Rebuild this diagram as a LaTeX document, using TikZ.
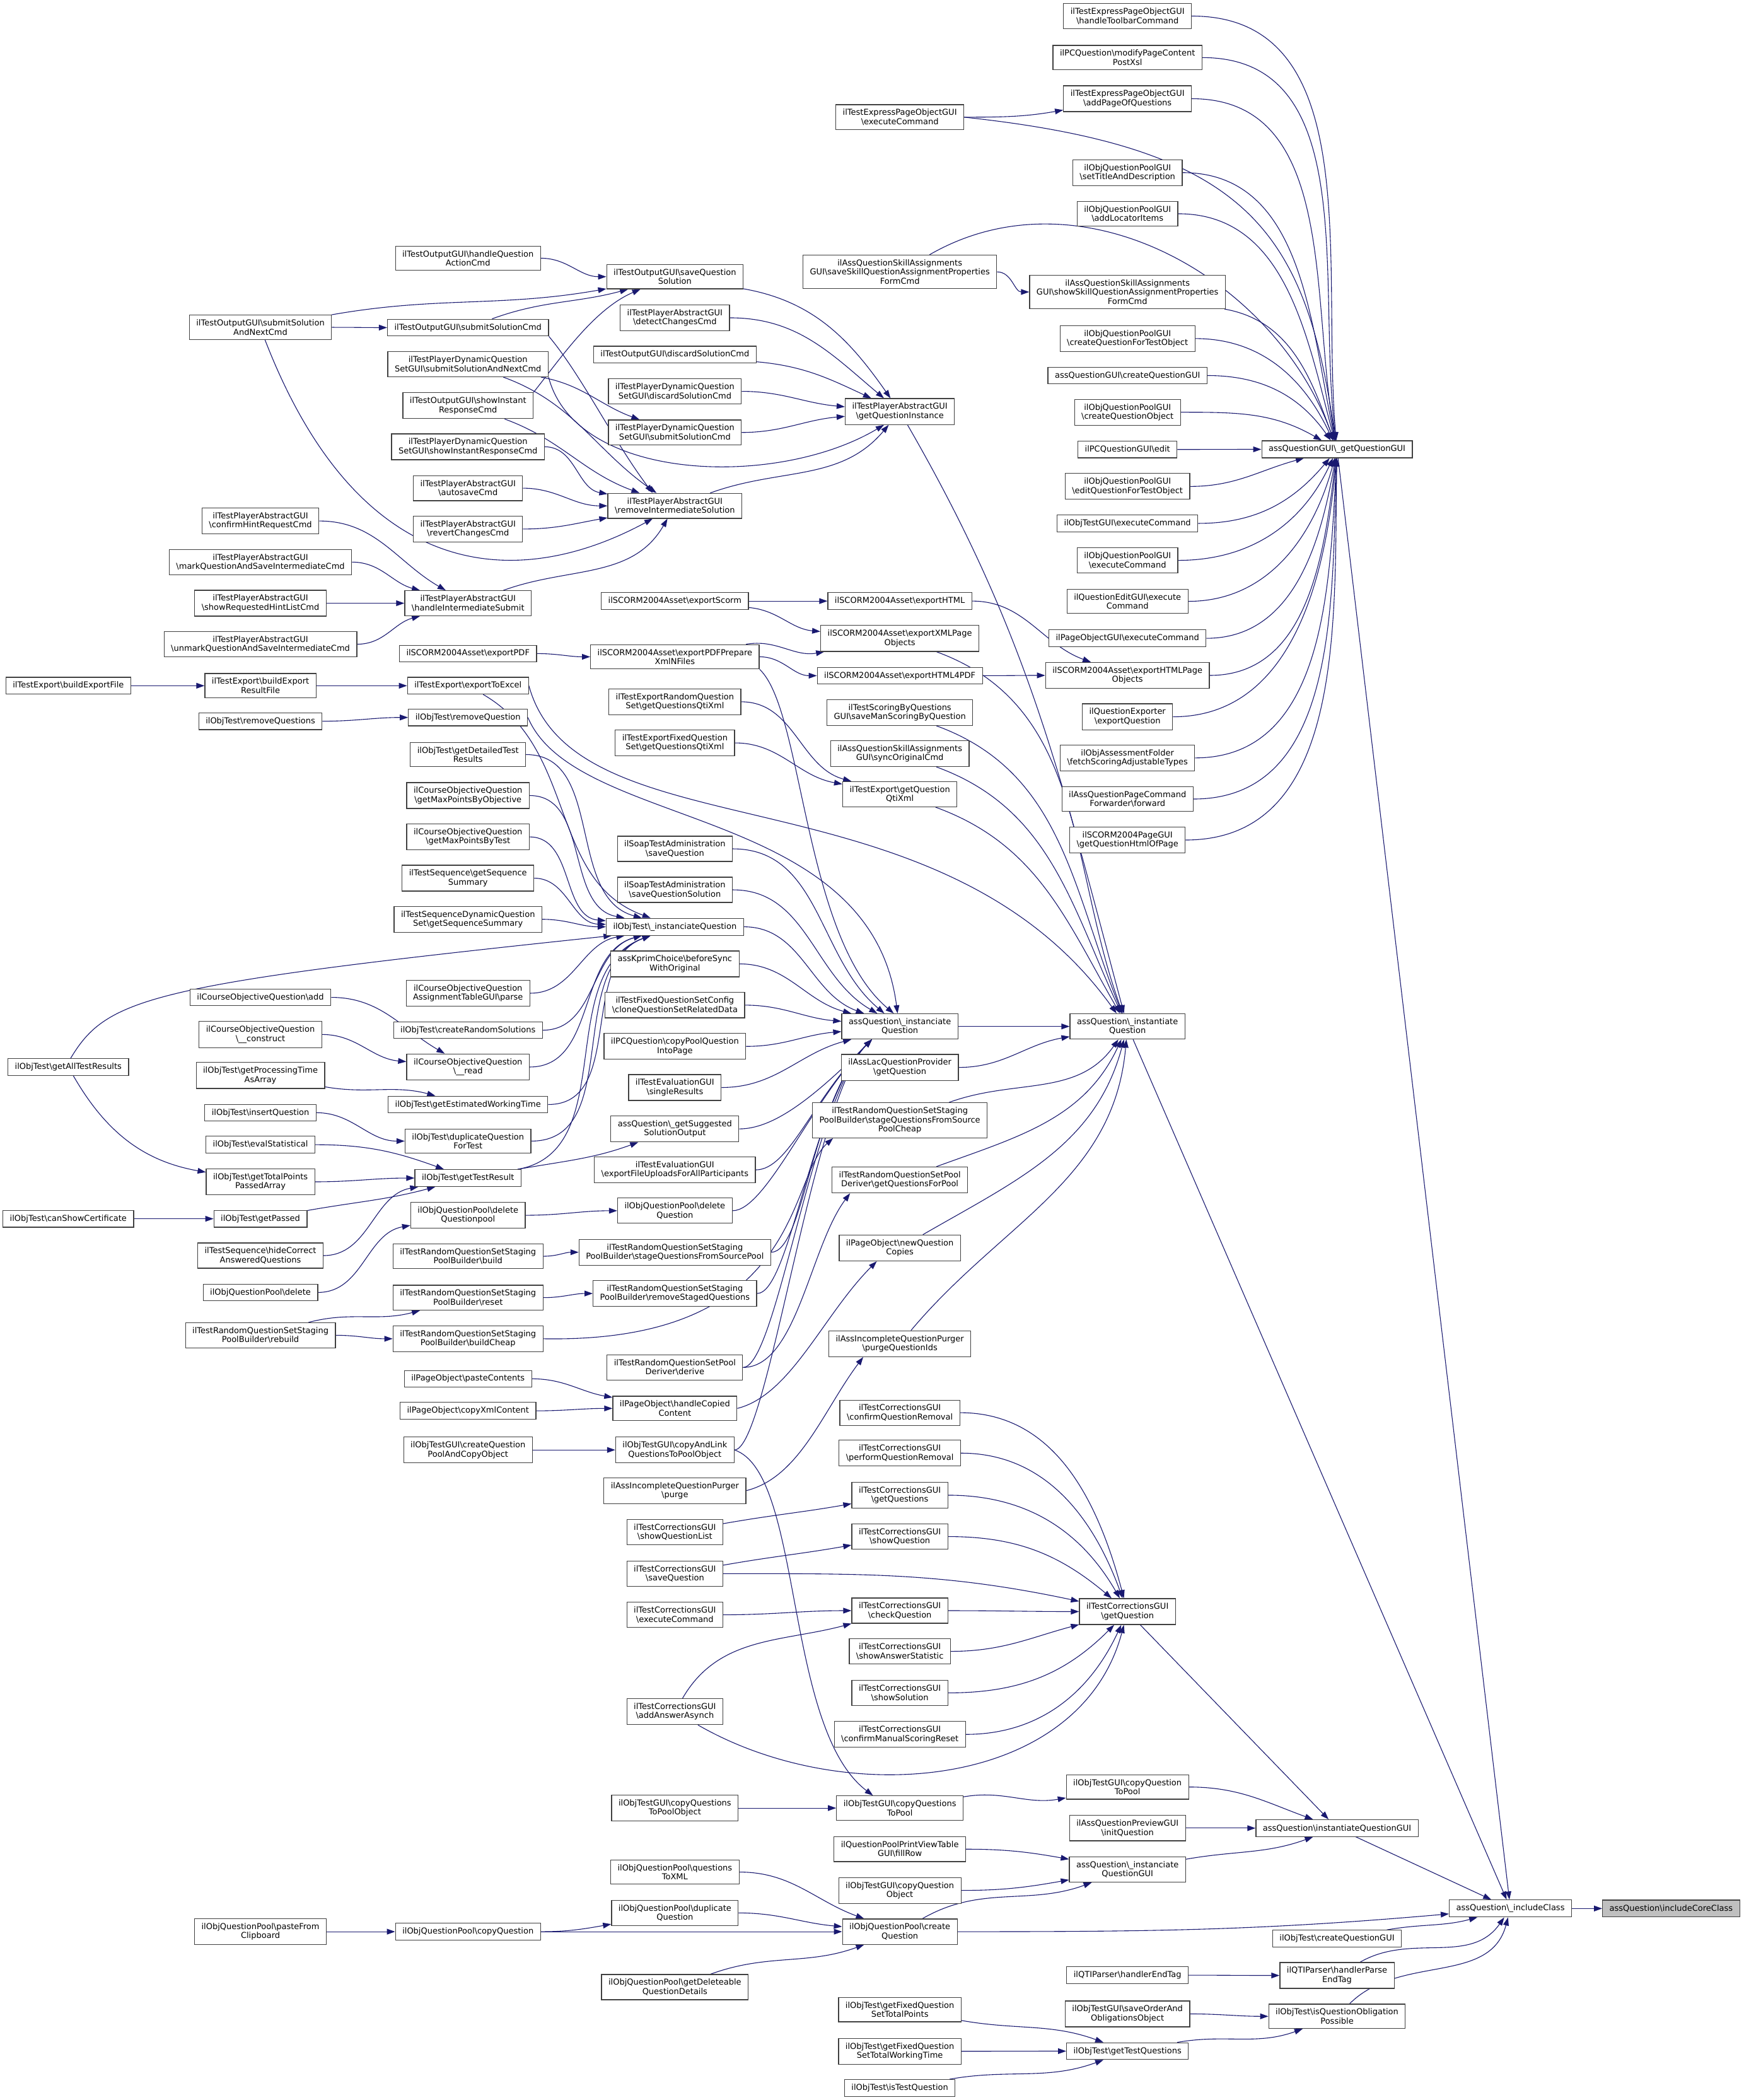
\documentclass[tikz,border=0pt]{standalone}
\usepackage{fontspec}
\setmainfont{DejaVu Sans}
\usetikzlibrary{arrows.meta}
\definecolor{edgeblue}{HTML}{191970}
\newcommand{\bsl}{\textbackslash}
\pgfdeclarelayer{bg}
\pgfsetlayers{bg,main}

\begin{document}
\begin{tikzpicture}[x=2.1237pt,y=2.1237pt,
  fn/.style={draw=black!75, fill=white, line width=1.2pt, inner xsep=11pt,
    inner ysep=7pt, minimum height=26.5pt, align=center,
    font=\fontsize{13}{14.5}\selectfont},
  call/.style={draw=edgeblue, line width=1.1pt, -{Triangle[length=13pt,width=9pt]}}]
\useasboundingbox (0,0) rectangle (1302,-1568);
% Focus
\node[fn, fill=gray!50] (coreclass) at (1248,-1425) {assQuestion\bsl includeCoreClass};
\node[fn] (incl) at (1128,-1425) {assQuestion\bsl\_includeClass};
% Column 6
\node[fn] (gqg) at (998.5,-335.5) {assQuestionGUI\bsl\_getQuestionGUI};
\node[fn] (iqgui) at (998.5,-1365) {assQuestion\bsl instantiateQuestionGUI};
\node[fn] (otcqg) at (998.5,-1447.5) {ilObjTest\bsl createQuestionGUI};
\node[fn] (qtiparse) at (998.5,-1475) {ilQTIParser\bsl handlerParse\\EndTag};
\node[fn] (oblig) at (998.5,-1505.5) {ilObjTest\bsl isQuestionObligation\\Possible};
% Column 5
\node[fn] (htc) at (842,-12) {ilTestExpressPageObjectGUI\\\bsl handleToolbarCommand};
\node[fn] (mpc) at (842,-43) {ilPCQuestion\bsl modifyPageContent\\PostXsl};
\node[fn] (apq) at (842,-73.7) {ilTestExpressPageObjectGUI\\\bsl addPageOfQuestions};
\node[fn] (stad) at (842,-128.9) {ilObjQuestionPoolGUI\\\bsl setTitleAndDescription};
\node[fn] (ali) at (842,-159.6) {ilObjQuestionPoolGUI\\\bsl addLocatorItems};
\node[fn] (showskill) at (842,-218) {ilAssQuestionSkillAssignments\\GUI\bsl showSkillQuestionAssignmentProperties\\FormCmd};
\node[fn] (cqfto) at (842,-252.8) {ilObjQuestionPoolGUI\\\bsl createQuestionForTestObject};
\node[fn] (cqgui) at (842,-280.4) {assQuestionGUI\bsl createQuestionGUI};
\node[fn] (cqo) at (842,-307.8) {ilObjQuestionPoolGUI\\\bsl createQuestionObject};
\node[fn] (pcedit) at (842,-335.6) {ilPCQuestionGUI\bsl edit};
\node[fn] (eqfto) at (842,-363.2) {ilObjQuestionPoolGUI\\\bsl editQuestionForTestObject};
\node[fn] (otgexec) at (842,-390.8) {ilObjTestGUI\bsl executeCommand};
\node[fn] (qpgexec) at (842,-418.4) {ilObjQuestionPoolGUI\\\bsl executeCommand};
\node[fn] (qeexec) at (842,-449) {ilQuestionEditGUI\bsl execute\\Command};
\node[fn] (pogexec) at (842,-476.6) {ilPageObjectGUI\bsl executeCommand};
\node[fn] (htmlpo) at (842,-504.3) {ilSCORM2004Asset\bsl exportHTMLPage\\Objects};
\node[fn] (qexport) at (842,-535.2) {ilQuestionExporter\\\bsl exportQuestion};
\node[fn] (fetch) at (842,-565.9) {ilObjAssessmentFolder\\\bsl fetchScoringAdjustableTypes};
\node[fn] (forward) at (842,-596.6) {ilAssQuestionPageCommand\\Forwarder\bsl forward};
\node[fn] (htmlpage) at (842,-627.2) {ilSCORM2004PageGUI\\\bsl getQuestionHtmlOfPage};
\node[fn] (instq) at (842,-766.4) {assQuestion\bsl\_instantiate\\Question};
\node[fn] (tcgq) at (842,-1203.3) {ilTestCorrectionsGUI\\\bsl getQuestion};
\node[fn] (cqtp) at (842,-1334.3) {ilObjTestGUI\bsl copyQuestion\\ToPool};
\node[fn] (preview) at (842,-1365) {ilAssQuestionPreviewGUI\\\bsl initQuestion};
\node[fn] (instqgui) at (842,-1395.9) {assQuestion\bsl\_instanciate\\QuestionGUI};
\node[fn] (endtag) at (842,-1474.8) {ilQTIParser\bsl handlerEndTag};
\node[fn] (saveorder) at (842,-1503.7) {ilObjTestGUI\bsl saveOrderAnd\\ObligationsObject};
\node[fn] (gtq) at (842,-1531.5) {ilObjTest\bsl getTestQuestions};
% Column 4
\node[fn] (tepexec) at (672,-87.5) {ilTestExpressPageObjectGUI\\\bsl executeCommand};
\node[fn] (saveskill) at (672,-203) {ilAssQuestionSkillAssignments\\GUI\bsl saveSkillQuestionAssignmentProperties\\FormCmd};
\node[fn] (gqi) at (672,-307.3) {ilTestPlayerAbstractGUI\\\bsl getQuestionInstance};
\node[fn] (exphtml) at (672,-448.8) {ilSCORM2004Asset\bsl exportHTML};
\node[fn] (xmlpo) at (672,-476.7) {ilSCORM2004Asset\bsl exportXMLPage\\Objects};
\node[fn] (html4pdf) at (672,-504.5) {ilSCORM2004Asset\bsl exportHTML4PDF};
\node[fn] (manscoring) at (672,-532) {ilTestScoringByQuestions\\GUI\bsl saveManScoringByQuestion};
\node[fn] (syncorig) at (672,-562.7) {ilAssQuestionSkillAssignments\\GUI\bsl syncOriginalCmd};
\node[fn] (qtixml) at (672,-593) {ilTestExport\bsl getQuestion\\QtiXml};
\node[fn] (instanq) at (672,-766.4) {assQuestion\bsl\_instanciate\\Question};
\node[fn] (lacq) at (672,-797) {ilAssLacQuestionProvider\\\bsl getQuestion};
\node[fn] (stagecheap) at (672,-836.5) {ilTestRandomQuestionSetStaging\\PoolBuilder\bsl stageQuestionsFromSource\\PoolCheap};
\node[fn] (qforpool) at (672,-881) {ilTestRandomQuestionSetPool\\Deriver\bsl getQuestionsForPool};
\node[fn] (newcopies) at (672,-931.8) {ilPageObject\bsl newQuestion\\Copies};
\node[fn] (purgeids) at (672,-1003.3) {ilAssIncompleteQuestionPurger\\\bsl purgeQuestionIds};
\node[fn] (tcconfirm) at (672,-1054.8) {ilTestCorrectionsGUI\\\bsl confirmQuestionRemoval};
\node[fn] (tcperform) at (672,-1085) {ilTestCorrectionsGUI\\\bsl performQuestionRemoval};
\node[fn] (tcgqs) at (672,-1116.4) {ilTestCorrectionsGUI\\\bsl getQuestions};
\node[fn] (tcshowq) at (672,-1147.3) {ilTestCorrectionsGUI\\\bsl showQuestion};
\node[fn] (tccheck) at (672,-1202.6) {ilTestCorrectionsGUI\\\bsl checkQuestion};
\node[fn] (tcstat) at (672,-1233) {ilTestCorrectionsGUI\\\bsl showAnswerStatistic};
\node[fn] (tcsol) at (672,-1264) {ilTestCorrectionsGUI\\\bsl showSolution};
\node[fn] (tcreset) at (672,-1295) {ilTestCorrectionsGUI\\\bsl confirmManualScoringReset};
\node[fn] (cqstp) at (672,-1350) {ilObjTestGUI\bsl copyQuestions\\ToPool};
\node[fn] (fillrow) at (672,-1380.7) {ilQuestionPoolPrintViewTable\\GUI\bsl fillRow};
\node[fn] (cqobj) at (672,-1411.5) {ilObjTestGUI\bsl copyQuestion\\Object};
\node[fn] (createq) at (672,-1442.3) {ilObjQuestionPool\bsl create\\Question};
\node[fn] (totpoints) at (672,-1500.5) {ilObjTest\bsl getFixedQuestion\\SetTotalPoints};
\node[fn] (tottime) at (672,-1531.6) {ilObjTest\bsl getFixedQuestion\\SetTotalWorkingTime};
\node[fn] (istestq) at (672,-1559) {ilObjTest\bsl isTestQuestion};
% Column 3
\node[fn] (saveqs) at (504,-206.6) {ilTestOutputGUI\bsl saveQuestion\\Solution};
\node[fn] (detect) at (504,-237.3) {ilTestPlayerAbstractGUI\\\bsl detectChangesCmd};
\node[fn] (discard) at (504,-264.8) {ilTestOutputGUI\bsl discardSolutionCmd};
\node[fn] (dyndiscard) at (504,-292.2) {ilTestPlayerDynamicQuestion\\SetGUI\bsl discardSolutionCmd};
\node[fn] (dynsubmit) at (504,-322.9) {ilTestPlayerDynamicQuestion\\SetGUI\bsl submitSolutionCmd};
\node[fn] (removeis) at (504,-377.7) {ilTestPlayerAbstractGUI\\\bsl removeIntermediateSolution};
\node[fn] (scorm) at (504,-448.8) {ilSCORM2004Asset\bsl exportScorm};
\node[fn] (pdfprep) at (504,-490.4) {ilSCORM2004Asset\bsl exportPDFPrepare\\XmlNFiles};
\node[fn] (randqti) at (504,-524) {ilTestExportRandomQuestion\\Set\bsl getQuestionsQtiXml};
\node[fn] (fixedqti) at (504,-554.7) {ilTestExportFixedQuestion\\Set\bsl getQuestionsQtiXml};
\node[fn] (soapsave) at (504,-633.8) {ilSoapTestAdministration\\\bsl saveQuestion};
\node[fn] (soapsol) at (504,-664.4) {ilSoapTestAdministration\\\bsl saveQuestionSolution};
\node[fn] (otinst) at (504,-692) {ilObjTest\bsl\_instanciateQuestion};
\node[fn] (kprim) at (504,-719.7) {assKprimChoice\bsl beforeSync\\WithOriginal};
\node[fn] (clone) at (504,-750.5) {ilTestFixedQuestionSetConfig\\\bsl cloneQuestionSetRelatedData};
\node[fn] (pcpool) at (504,-781.3) {ilPCQuestion\bsl copyPoolQuestion\\IntoPage};
\node[fn] (singleres) at (504,-812) {ilTestEvaluationGUI\\\bsl singleResults};
\node[fn] (suggested) at (504,-842.9) {assQuestion\bsl\_getSuggested\\SolutionOutput};
\node[fn] (uploads) at (504,-873.5) {ilTestEvaluationGUI\\\bsl exportFileUploadsForAllParticipants};
\node[fn] (delq) at (504,-904) {ilObjQuestionPool\bsl delete\\Question};
\node[fn] (stagepool) at (504,-935) {ilTestRandomQuestionSetStaging\\PoolBuilder\bsl stageQuestionsFromSourcePool};
\node[fn] (removestaged) at (504,-965.8) {ilTestRandomQuestionSetStaging\\PoolBuilder\bsl removeStagedQuestions};
\node[fn] (derive) at (504,-1021) {ilTestRandomQuestionSetPool\\Deriver\bsl derive};
\node[fn] (handlecopied) at (504,-1051.6) {ilPageObject\bsl handleCopied\\Content};
\node[fn] (copylink) at (504,-1082.6) {ilObjTestGUI\bsl copyAndLink\\QuestionsToPoolObject};
\node[fn] (purge) at (504,-1113) {ilAssIncompleteQuestionPurger\\\bsl purge};
\node[fn] (tcqlist) at (504,-1144) {ilTestCorrectionsGUI\\\bsl showQuestionList};
\node[fn] (tcsaveq) at (504,-1175) {ilTestCorrectionsGUI\\\bsl saveQuestion};
\node[fn] (tcexec) at (504,-1205.7) {ilTestCorrectionsGUI\\\bsl executeCommand};
\node[fn] (tcasync) at (504,-1278) {ilTestCorrectionsGUI\\\bsl addAnswerAsynch};
\node[fn] (cqstpobj) at (504,-1350) {ilObjTestGUI\bsl copyQuestions\\ToPoolObject};
\node[fn] (qtoxml) at (504,-1397.8) {ilObjQuestionPool\bsl questions\\ToXML};
\node[fn] (dupq) at (504,-1428.3) {ilObjQuestionPool\bsl duplicate\\Question};
\node[fn] (deleteable) at (504,-1483.7) {ilObjQuestionPool\bsl getDeleteable\\QuestionDetails};
% Column 2
\node[fn] (qaction) at (349.5,-192.8) {ilTestOutputGUI\bsl handleQuestion\\ActionCmd};
\node[fn] (submitcmd) at (349.5,-244.6) {ilTestOutputGUI\bsl submitSolutionCmd};
\node[fn] (dynsubmitnext) at (349.5,-272) {ilTestPlayerDynamicQuestion\\SetGUI\bsl submitSolutionAndNextCmd};
\node[fn] (instresp) at (349.5,-302.9) {ilTestOutputGUI\bsl showInstant\\ResponseCmd};
\node[fn] (dyninstresp) at (349.5,-333.6) {ilTestPlayerDynamicQuestion\\SetGUI\bsl showInstantResponseCmd};
\node[fn] (autosave) at (349.5,-364.5) {ilTestPlayerAbstractGUI\\\bsl autosaveCmd};
\node[fn] (revert) at (349.5,-395) {ilTestPlayerAbstractGUI\\\bsl revertChangesCmd};
\node[fn] (intermsubmit) at (349.5,-450.4) {ilTestPlayerAbstractGUI\\\bsl handleIntermediateSubmit};
\node[fn] (exportpdf) at (349.5,-488) {ilSCORM2004Asset\bsl exportPDF};
\node[fn] (excel) at (349.5,-512) {ilTestExport\bsl exportToExcel};
\node[fn] (removeq) at (349.5,-535.7) {ilObjTest\bsl removeQuestion};
\node[fn] (detailed) at (349.5,-563.4) {ilObjTest\bsl getDetailedTest\\Results};
\node[fn] (maxobj) at (349.5,-594) {ilCourseObjectiveQuestion\\\bsl getMaxPointsByObjective};
\node[fn] (maxtest) at (349.5,-624.9) {ilCourseObjectiveQuestion\\\bsl getMaxPointsByTest};
\node[fn] (seqsum) at (349.5,-655.7) {ilTestSequence\bsl getSequence\\Summary};
\node[fn] (dynseqsum) at (349.5,-686.4) {ilTestSequenceDynamicQuestion\\Set\bsl getSequenceSummary};
\node[fn] (parse) at (349.5,-741.6) {ilCourseObjectiveQuestion\\AssignmentTableGUI\bsl parse};
\node[fn] (randsol) at (349.5,-769.2) {ilObjTest\bsl createRandomSolutions};
\node[fn] (coread) at (349.5,-796.7) {ilCourseObjectiveQuestion\\\bsl\_\_read};
\node[fn] (worktime) at (349.5,-824.7) {ilObjTest\bsl getEstimatedWorkingTime};
\node[fn] (dupfortest) at (349.5,-852) {ilObjTest\bsl duplicateQuestion\\ForTest};
\node[fn] (testresult) at (349.5,-879.6) {ilObjTest\bsl getTestResult};
\node[fn] (delpool) at (349.5,-907.4) {ilObjQuestionPool\bsl delete\\Questionpool};
\node[fn] (spbuild) at (349.5,-938) {ilTestRandomQuestionSetStaging\\PoolBuilder\bsl build};
\node[fn] (spreset) at (349.5,-968.9) {ilTestRandomQuestionSetStaging\\PoolBuilder\bsl reset};
\node[fn] (spcheap) at (349.5,-999.6) {ilTestRandomQuestionSetStaging\\PoolBuilder\bsl buildCheap};
\node[fn] (paste) at (349.5,-1029.5) {ilPageObject\bsl pasteContents};
\node[fn] (copyxml) at (349.5,-1053.4) {ilPageObject\bsl copyXmlContent};
\node[fn] (createpool) at (349.5,-1082.6) {ilObjTestGUI\bsl createQuestion\\PoolAndCopyObject};
\node[fn] (copyq) at (349.5,-1442.3) {ilObjQuestionPool\bsl copyQuestion};
% Column 1
\node[fn] (submitnext) at (194.5,-244.4) {ilTestOutputGUI\bsl submitSolution\\AndNextCmd};
\node[fn] (hint) at (194.5,-389) {ilTestPlayerAbstractGUI\\\bsl confirmHintRequestCmd};
\node[fn] (markq) at (194.5,-419.7) {ilTestPlayerAbstractGUI\\\bsl markQuestionAndSaveIntermediateCmd};
\node[fn] (hintlist) at (194.5,-450.4) {ilTestPlayerAbstractGUI\\\bsl showRequestedHintListCmd};
\node[fn] (unmarkq) at (194.5,-481) {ilTestPlayerAbstractGUI\\\bsl unmarkQuestionAndSaveIntermediateCmd};
\node[fn] (resultfile) at (194.5,-512) {ilTestExport\bsl buildExport\\ResultFile};
\node[fn] (removeqs) at (194.5,-538.5) {ilObjTest\bsl removeQuestions};
\node[fn] (coadd) at (194.5,-744.7) {ilCourseObjectiveQuestion\bsl add};
\node[fn] (coconstruct) at (194.5,-772.4) {ilCourseObjectiveQuestion\\\bsl\_\_construct};
\node[fn] (proctime) at (194.5,-803) {ilObjTest\bsl getProcessingTime\\AsArray};
\node[fn] (insertq) at (194.5,-830.8) {ilObjTest\bsl insertQuestion};
\node[fn] (evalstat) at (194.5,-854.7) {ilObjTest\bsl evalStatistical};
\node[fn] (totpassed) at (194.5,-882.4) {ilObjTest\bsl getTotalPoints\\PassedArray};
\node[fn] (getpassed) at (194.5,-910) {ilObjTest\bsl getPassed};
\node[fn] (hidecorrect) at (194.5,-937.5) {ilTestSequence\bsl hideCorrect\\AnsweredQuestions};
\node[fn] (pooldelete) at (194.5,-965) {ilObjQuestionPool\bsl delete};
\node[fn] (sprebuild) at (194.5,-997) {ilTestRandomQuestionSetStaging\\PoolBuilder\bsl rebuild};
\node[fn] (pastefrom) at (194.5,-1442.3) {ilObjQuestionPool\bsl pasteFrom\\Clipboard};
% Column 0
\node[fn] (exportfile) at (51,-512) {ilTestExport\bsl buildExportFile};
\node[fn] (alltest) at (51,-796.7) {ilObjTest\bsl getAllTestResults};
\node[fn] (certificate) at (51,-910) {ilObjTest\bsl canShowCertificate};
\begin{pgfonlayer}{bg}
% Calls: caller/out/in/callee
\foreach \a/\o/\i/\b in {exportfile/0/180/resultfile,
  alltest/-60/170/totpassed, certificate/0/180/getpassed,
  resultfile/0/180/excel, removeqs/0/180/removeq, coadd/0/150/coread,
  coconstruct/0/175/coread, proctime/-10/165/worktime, insertq/0/180/dupfortest,
  evalstat/0/160/testresult, totpassed/0/180/testresult, getpassed/10/195/testresult,
  hidecorrect/0/190/testresult, pooldelete/0/190/delpool, sprebuild/15/195/spreset,
  sprebuild/0/180/spcheap, submitnext/0/180/submitcmd, submitnext/10/190/saveqs,
  hint/0/150/intermsubmit, markq/0/165/intermsubmit, hintlist/0/180/intermsubmit,
  unmarkq/0/195/intermsubmit, pastefrom/0/180/copyq}
  \draw[call] (\a) to[out=\o,in=\i] (\b);
\foreach \a/\o/\i/\b in {qaction/0/180/saveqs, submitcmd/20/195/saveqs,
  dynsubmitnext/-10/160/dynsubmit,
  dynsubmitnext/-20/145/removeis, instresp/-20/160/removeis, dyninstresp/0/170/removeis,
  autosave/0/180/removeis, revert/0/190/removeis, intermsubmit/20/-120/removeis,
  exportpdf/0/180/pdfprep, excel/-30/160/otinst, detailed/0/165/otinst,
  maxobj/0/170/otinst, maxtest/0/175/otinst, seqsum/0/178/otinst, dynseqsum/0/180/otinst,
  parse/0/190/otinst, randsol/0/195/otinst, coread/0/195/otinst, worktime/0/200/otinst,
  dupfortest/0/200/otinst, testresult/10/200/otinst, testresult/10/200/suggested,
  delpool/0/180/delq, spbuild/0/180/stagepool, spreset/0/180/removestaged,
  paste/0/170/handlecopied, copyxml/0/180/handlecopied,
  createpool/0/180/copylink, copyq/0/190/dupq, copyq/0/180/createq}
  \draw[call] (\a) to[out=\o,in=\i] (\b);
\foreach \a/\o/\i/\b in {saveqs/-10/125/gqi, detect/0/140/gqi, discard/-5/155/gqi,
  dyndiscard/0/175/gqi, dynsubmit/0/185/gqi, removeis/20/-130/gqi,
  scorm/0/180/exphtml, scorm/-5/175/xmlpo, pdfprep/10/190/xmlpo, pdfprep/0/180/html4pdf,
  randqti/0/165/qtixml, fixedqti/0/170/qtixml,
  soapsave/0/140/instanq, soapsol/0/150/instanq, otinst/0/160/instanq,
  kprim/0/165/instanq, clone/0/175/instanq, pcpool/0/185/instanq,
  singleres/0/195/instanq, tcqlist/10/190/tcgqs, tcsaveq/10/190/tcshowq,
  tcexec/0/180/tccheck, tcasync/60/195/tccheck, cqstpobj/0/180/cqstp,
  qtoxml/0/160/createq, dupq/0/175/createq, deleteable/20/200/createq}
  \draw[call] (\a) to[out=\o,in=\i] (\b);
\foreach \a in {suggested, uploads, delq, stagepool, removestaged, derive, copylink}
  \draw[call] (\a.east) .. controls +(25,0) and +(-45,-45) .. (instanq.205);
\foreach \a/\o/\i/\b in {tepexec/0/190/apq, saveskill/0/180/showskill,
  saveskill/30/110/gqg, gqi/-60/105/instq, exphtml/0/160/htmlpo, html4pdf/0/180/htmlpo,
  xmlpo/-20/110/instq, manscoring/-20/112/instq, syncorig/-20/115/instq,
  qtixml/-20/120/instq, instanq/0/180/instq, lacq/0/190/instq,
  stagecheap/20/-125/instq, qforpool/20/-115/instq, newcopies/30/-105/instq,
  purgeids/50/-95/instq, tcconfirm/0/105/tcgq, tcperform/0/110/tcgq,
  tcgqs/0/120/tcgq, tcshowq/0/140/tcgq, tcsaveq/0/168/tcgq, tccheck/0/180/tcgq,
  tcstat/0/195/tcgq, tcsol/0/-135/tcgq, tcreset/0/-115/tcgq, tcasync/-30/-105/tcgq,
  cqstp/10/190/cqtp, fillrow/0/170/instqgui, cqobj/0/190/instqgui,
  createq/30/200/instqgui, totpoints/-10/160/gtq, tottime/0/180/gtq,
  istestq/10/200/gtq, createq/0/185/incl}
  \draw[call] (\a) to[out=\o,in=\i] (\b);
\foreach \a/\o/\i/\b in {htc/0/95/gqg, mpc/0/97/gqg, apq/0/100/gqg, stad/0/102/gqg,
  ali/0/105/gqg, showskill/-10/110/gqg, cqfto/0/115/gqg, cqgui/0/125/gqg,
  cqo/0/150/gqg, pcedit/0/180/gqg, eqfto/0/195/gqg, otgexec/0/-130/gqg,
  qpgexec/0/-115/gqg, qeexec/0/-105/gqg, pogexec/0/-100/gqg, htmlpo/0/-97/gqg,
  qexport/0/-95/gqg, fetch/0/-93/gqg, forward/0/-92/gqg, htmlpage/0/-91/gqg,
  endtag/0/180/qtiparse, saveorder/0/180/oblig, gtq/10/200/oblig,
  cqtp/0/160/iqgui, preview/0/180/iqgui, instqgui/10/-160/iqgui,
  otcqg/10/195/incl, qtiparse/30/-125/incl, oblig/45/-105/incl, incl/0/180/coreclass}
  \draw[call] (\a) to[out=\o,in=\i] (\b);
% Long calls
\foreach \a/\b in {instq/incl, gqg/incl, iqgui/incl, tcgq/iqgui}
  \draw[call] (\a) -- (\b);
\draw[call] (tepexec.east) .. controls (930,-110) and (975,-170) .. (gqg.100);
\draw[call] (alltest.75) .. controls (80,-745) and (110,-735) .. (otinst.188);
\draw[call] (submitnext.-70) .. controls (270,-440) and (390,-440) .. (removeis.-150);
\draw[call] (instresp.north east) .. controls +(20,25) and +(-35,-15) .. (saveqs.200);
\draw[call] (submitcmd.south east) .. controls +(25,-30) and +(-30,40) .. (removeis.150);
\draw[call] (dynsubmitnext.south east) .. controls (430,-360) and (580,-365) .. (gqi.-140);
\draw[call] (excel.east) .. controls (430,-640) and (700,-570) .. (instq.130);
\draw[call] (removeq.east) .. controls (430,-620) and (650,-600) .. (instanq.100);
\draw[call] (pdfprep.south east) .. controls (600,-530) and (600,-700) .. (instanq.115);
\draw[call] (spcheap.east) .. controls (600,-1003) and (588,-880) .. (stagecheap.-165);
\draw[call] (derive.east) .. controls +(40,0) and +(-30,-40) .. (qforpool.-165);
\draw[call] (handlecopied.east) .. controls +(40,10) and +(-40,-40) .. (newcopies.-150);
\draw[call] (purge.east) .. controls +(40,10) and +(-30,-40) .. (purgeids.-160);
\draw[call] (copylink.east) .. controls (600,-1100) and (585,-1290) .. (cqstp.155);
\end{pgfonlayer}
\end{tikzpicture}
\end{document}
